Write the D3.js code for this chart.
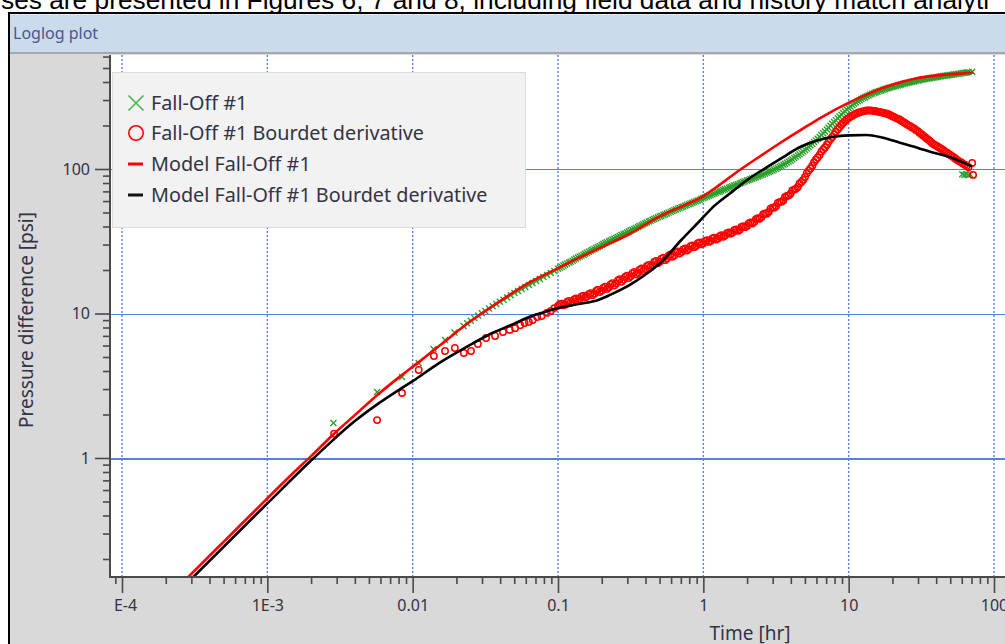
<!DOCTYPE html>
<html>
<head>
<meta charset="utf-8">
<script src="https://cdn.jsdelivr.net/npm/d3@7"></script>
<style>
  html, body { margin: 0; padding: 0; background: #ffffff; overflow: hidden; }
  svg { display: block; }
</style>
</head>
<body>
<svg id="chart" width="1005" height="644"></svg>
<script>
// ---- Fall-Off #1 field data (time in hr, pressure difference in psi) ----
// early pressure readings
const earlyPressureTime = [
  0.00285, 0.00569, 0.00845, 0.0110, 0.0139, 0.0167, 0.0194,
  0.0224, 0.0237, 0.0251, 0.0266, 0.0282, 0.0299, 0.0316, 0.0335, 0.0355, 0.0376,
  0.0398, 0.0422, 0.0447, 0.0473, 0.0501, 0.0531, 0.0562, 0.0596, 0.0631, 0.0668,
  0.0708, 0.0750, 0.0794, 0.0841, 0.0891, 0.0944
];
const earlyPressure = [
  1.75, 2.86, 3.63, 4.54, 5.68, 6.56, 7.40,
  8.20, 8.55, 8.91, 9.29, 9.68, 10.05, 10.42, 10.81, 11.22, 11.64,
  12.05, 12.47, 12.91, 13.37, 13.84, 14.32, 14.78, 15.26, 15.75, 16.26,
  16.78, 17.32, 17.88, 18.45, 19.05, 19.66
];
// early Bourdet derivative points
const earlyDerivativeTime = [
  0.00288, 0.00569, 0.00845, 0.0110, 0.0140, 0.0167, 0.0195, 0.0225, 0.0252,
  0.0281, 0.0320, 0.0369, 0.0418, 0.0465, 0.0507, 0.0550, 0.0589, 0.0630,
  0.0670, 0.0720, 0.0770, 0.0838, 0.0891, 0.0944
];
const earlyDerivative = [
  1.47, 1.83, 2.82, 4.06, 5.08, 5.50, 5.77, 5.33, 5.50,
  6.15, 6.77, 6.98, 7.44, 7.70, 7.92, 8.30, 8.60, 8.75,
  9.00, 9.45, 9.60, 10.1, 10.4, 10.9
];
// dense readings from 0.1 hr onward: time, pressure, derivative
const denseTime = [
  0.100, 0.1029, 0.106, 0.1091, 0.112, 0.1155, 0.119, 0.1222, 0.126, 0.1294,
  0.133, 0.1371, 0.141, 0.1452, 0.150, 0.1538, 0.158, 0.1629, 0.168, 0.1726,
  0.178, 0.1828, 0.188, 0.1936, 0.200, 0.2051, 0.211, 0.2172, 0.224, 0.2301,
  0.237, 0.2437, 0.251, 0.2582, 0.266, 0.2735, 0.282, 0.2897, 0.299, 0.3068,
  0.316, 0.3250, 0.335, 0.3442, 0.355, 0.3646, 0.376, 0.3862, 0.398, 0.4091,
  0.422, 0.4333, 0.447, 0.4590, 0.473, 0.4862, 0.501, 0.5150, 0.531, 0.5455,
  0.562, 0.5778, 0.596, 0.6120, 0.631, 0.6482, 0.668, 0.6866, 0.708, 0.7273,
  0.750, 0.7704, 0.794, 0.8160, 0.841, 0.8643, 0.891, 0.9155, 0.944, 0.9697,
  1.00, 1.029, 1.06, 1.091, 1.12, 1.155, 1.19, 1.222, 1.26, 1.294,
  1.33, 1.371, 1.41, 1.452, 1.50, 1.538, 1.58, 1.629, 1.68, 1.726,
  1.78, 1.828, 1.88, 1.936, 2.00, 2.051, 2.11, 2.172, 2.24, 2.301,
  2.37, 2.437, 2.51, 2.582, 2.66, 2.735, 2.82, 2.897, 2.99, 3.068,
  3.16, 3.250, 3.35, 3.442, 3.55, 3.646, 3.76, 3.862, 3.98, 4.091,
  4.22, 4.333, 4.47, 4.590, 4.73, 4.862, 5.01, 5.150, 5.31, 5.455,
  5.62, 5.778, 5.96, 6.120, 6.31, 6.482, 6.68, 6.866, 7.08, 7.273,
  7.50, 7.704, 7.94, 8.160, 8.41, 8.643, 8.91, 9.155, 9.44, 9.697,
  10.0, 10.29, 10.6, 10.91, 11.2, 11.55, 11.9, 12.22, 12.6, 12.94,
  13.3, 13.71, 14.1, 14.52, 15.0, 15.38, 15.8, 16.29, 16.8, 17.26,
  17.8, 18.28, 18.8, 19.36, 20.0, 20.51, 21.1, 21.72, 22.4, 23.01,
  23.7, 24.37, 25.1, 25.82, 26.6, 27.35, 28.2, 28.97, 29.9, 30.68,
  31.6, 32.50, 33.5, 34.42, 35.5, 36.46, 37.6, 38.62, 39.8, 40.91,
  42.2, 43.33, 44.7, 45.90, 47.3, 48.62, 50.1, 51.50, 53.1, 54.55,
  56.2, 57.78, 59.6, 61.20, 63.1, 64.82, 66.8, 70.8
];
const densePressure = [
  20.4, 20.75, 21.1, 21.45, 21.8, 22.15, 22.5, 22.85, 23.2, 23.6,
  24.0, 24.4, 24.8, 25.15, 25.5, 25.9, 26.3, 26.75, 27.2, 27.6,
  28.0, 28.45, 28.9, 29.35, 29.8, 30.25, 30.7, 31.15, 31.6, 32.05,
  32.5, 32.95, 33.4, 33.9, 34.4, 34.9, 35.4, 35.9, 36.4, 36.95,
  37.5, 38.0, 38.5, 39.1, 39.7, 40.25, 40.8, 41.45, 42.1, 42.7,
  43.3, 43.9, 44.5, 45.1, 45.7, 46.35, 47.0, 47.55, 48.1, 48.7,
  49.3, 49.9, 50.5, 51.15, 51.8, 52.4, 53.0, 53.65, 54.3, 55.0,
  55.7, 56.35, 57.0, 57.7, 58.4, 59.1, 59.8, 60.55, 61.3, 62.15,
  63.0, 63.75, 64.5, 65.3, 66.1, 66.85, 67.6, 68.4, 69.2, 70.0,
  70.8, 71.65, 72.5, 73.35, 74.2, 75.05, 75.9, 76.75, 77.6, 78.5,
  79.4, 80.35, 81.3, 82.2, 83.1, 84.0, 84.9, 85.85, 86.8, 87.75,
  88.7, 89.75, 90.8, 91.85, 92.9, 94.1, 95.3, 96.55, 97.8, 99.15,
  100.5, 102.0, 103.5, 105.2, 106.9, 108.7, 110.5, 112.5, 114.6, 116.8,
  119.0, 121.4, 123.9, 126.6, 129.3, 132.3, 135.4, 138.7, 142.1, 145.8,
  149.5, 153.6, 157.8, 162.2, 166.7, 171.6, 176.6, 182.0, 187.5, 193.2,
  199.1, 205.3, 211.5, 217.9, 224.4, 231.0, 237.7, 244.3, 251.0, 257.8,
  264.6, 270.8, 277.0, 282.8, 288.7, 294.1, 299.6, 304.6, 309.6, 314.2,
  318.8, 323.0, 327.3, 331.3, 335.4, 339.1, 342.8, 346.3, 349.9, 353.3,
  356.8, 360.1, 363.4, 366.6, 369.8, 372.8, 375.8, 378.7, 381.7, 384.5,
  387.4, 390.2, 393.0, 395.8, 398.6, 401.2, 403.9, 406.4, 409.0, 411.5,
  414.0, 416.4, 418.8, 421.1, 423.4, 425.6, 427.8, 429.9, 432.0, 434.0,
  436.1, 438.1, 440.2, 442.1, 444.1, 446.0, 447.9, 449.8, 451.7, 453.5,
  455.3, 457.1, 459.0, 460.9, 462.8, 464.6, 466.5, 471.0
];
const denseDerivative = [
  11.3, 11.6, 11.7, 11.4, 11.5, 12.0, 12.2, 11.9, 12.0, 12.5,
  12.7, 12.4, 12.6, 13.1, 13.3, 12.9, 13.1, 13.6, 13.8, 13.4,
  13.7, 14.3, 14.6, 14.1, 14.4, 15.0, 15.3, 14.8, 15.2, 15.9,
  16.2, 15.6, 16.1, 16.9, 17.3, 16.6, 17.1, 17.9, 18.3, 17.6,
  18.1, 19.0, 19.4, 18.6, 19.1, 20.1, 20.5, 19.7, 20.3, 21.3,
  21.7, 21.0, 21.6, 22.7, 23.1, 22.3, 22.8, 23.9, 24.3, 23.4,
  24.0, 25.2, 25.6, 24.7, 25.2, 26.5, 26.9, 26.0, 26.6, 27.8,
  28.2, 27.3, 27.9, 29.2, 29.6, 28.7, 29.3, 30.6, 31.0, 30.1,
  30.6, 31.8, 32.2, 31.3, 31.8, 33.0, 33.4, 32.5, 33.0, 34.3,
  34.8, 34.0, 34.6, 36.0, 36.4, 35.6, 36.2, 37.7, 38.1, 37.3,
  38.0, 39.7, 40.2, 39.6, 40.4, 42.0, 42.6, 42.0, 43.0, 45.0,
  45.6, 45.2, 46.3, 48.6, 49.3, 49.1, 50.5, 53.2, 54.0, 54.0,
  55.3, 58.2, 59.0, 59.3, 60.6, 64.0, 65.0, 65.6, 67.3, 71.0,
  72.0, 73.0, 75.0, 79.5, 81.3, 84.0, 88.0, 93.5, 97.5, 101.0,
  105.5, 111.5, 116.3, 120.0, 125.0, 131.5, 136.5, 141.0, 147.0, 154.5,
  161.0, 166.5, 173.5, 181.5, 188.5, 194.5, 202.0, 208.5, 214.5, 220.0,
  225.0, 230.0, 234.0, 238.0, 241.5, 244.5, 247.0, 249.0, 250.5, 252.5,
  254.0, 254.5, 254.5, 253.5, 252.0, 251.0, 249.5, 248.0, 246.5, 245.0,
  243.0, 241.0, 239.0, 235.5, 232.0, 229.0, 226.0, 223.0, 220.0, 216.0,
  212.0, 208.0, 204.0, 200.5, 197.5, 194.0, 190.5, 186.5, 183.0, 178.5,
  174.5, 170.5, 166.5, 162.5, 159.0, 155.0, 151.0, 148.0, 145.5, 143.0,
  140.5, 138.0, 135.5, 132.5, 130.0, 127.5, 125.0, 122.5, 120.0, 117.5,
  115.0, 113.0, 111.0, 109.0, 107.0, 105.0, 103.0, 110.0
];
// trailing readings at the end of the fall-off
const pressureTailTime = [60.5, 62.5, 64.5, 66.5, 68.5];
const pressureTail     = [92, 91, 92, 91, 92];
const derivativeTailTime = [71.8];
const derivativeTail     = [91];

// ---- Model Fall-Off #1 ----
const modelTime = [
  1e-4, 5e-4, 1e-3, 0.0015, 0.002, 0.00283, 0.004, 0.00569, 0.008, 0.0113,
  0.016, 0.0237, 0.0303, 0.045, 0.0637, 0.1, 0.14, 0.2, 0.31, 0.52,
  0.75, 1.0, 1.3, 1.77, 2.5, 3.5, 4.63, 6.5, 10.2, 14,
  17.5, 23, 29.5, 40, 55, 72
];
const modelPressure = [
  0.0526, 0.263, 0.526, 0.785, 1.03, 1.45, 1.98, 2.72, 3.6, 4.7,
  6.2, 8.5, 10.1, 13.2, 16.4, 20.6, 24.3, 28.8, 35.5, 48,
  56.5, 65, 78, 98, 124, 155, 185, 228, 290, 335,
  366, 400, 425, 443, 456, 465
];
const modelDerivTime = [
  1e-4, 1e-3, 0.002, 0.00283, 0.004, 0.0057, 0.008, 0.01, 0.015, 0.0237,
  0.035, 0.05, 0.0637, 0.08, 0.1, 0.13, 0.16, 0.185, 0.23, 0.31,
  0.4, 0.52, 0.7, 0.94, 1.2, 1.59, 2.0, 2.74, 3.5, 4.63,
  6, 7.8, 10, 13.3, 17, 22.5, 30, 37.9, 49.5, 60, 70.7
];
const modelDerivative = [
  0.0485, 0.485, 0.96, 1.33, 1.8, 2.35, 2.95, 3.4, 4.5, 5.9,
  7.3, 8.5, 9.5, 10.2, 10.9, 11.5, 11.9, 12.3, 13.5, 15.7,
  18.6, 23, 32, 43.5, 56, 70, 84, 103, 120, 142,
  157, 167, 171, 172, 165, 152, 140, 130, 121, 112, 104
];

// ---- axis ticks and labels ----
const xTickValues = [1e-4, 1e-3, 1e-2, 1e-1, 1, 10, 100];
const xTickLabels = ["E-4", "1E-3", "0.01", "0.1", "1", "10", "100"];
const yTickValues = [1, 10, 100];
const yTickLabels = ["1", "10", "100"];
const legendLabels = [
  "Fall-Off #1",
  "Fall-Off #1 Bourdet derivative",
  "Model Fall-Off #1",
  "Model Fall-Off #1 Bourdet derivative"
];
const headerText = "ses are presented in Figures 6, 7 and 8, including field data and history match analyti";
const windowTitle = "Loglog plot";
const xTitle = "Time [hr]";
const yTitle = "Pressure difference [psi]";

// ---- layout ----
const W = 1005, H = 644;
const plot = { left: 110, top: 55, right: 1010, bottom: 577 };
const GREEN = "#2ca02c", RED = "#ff0000", GRID = "#5a7fe0";
const FONT = "'Noto Sans', 'Open Sans', sans-serif";
const TEXT = "#333344";

const svg = d3.select("#chart");

const x = d3.scaleLog().domain([1e-4, 100]).range([122, 994]);
const y = d3.scaleLog().domain([1, 100]).range([458, 169]);

// document text running above the window
svg.append("text")
  .attr("x", 1).attr("y", 9)
  .attr("font-family", "'Liberation Sans', Arial, sans-serif")
  .attr("font-size", 26.3).attr("fill", "#000")
  .text(headerText);

// window frame and title bar
svg.append("rect").attr("x", 8).attr("y", 12).attr("width", W).attr("height", H).attr("fill", "#000");
svg.append("rect").attr("x", 10).attr("y", 14).attr("width", W).attr("height", 39).attr("fill", "#cbdbeb");
svg.append("rect").attr("x", 10).attr("y", 14).attr("width", W).attr("height", 1).attr("fill", "#e3ecf5");
svg.append("rect").attr("x", 10).attr("y", 52).attr("width", W).attr("height", 2).attr("fill", "#a8a8a8");
svg.append("rect").attr("x", 10).attr("y", 54).attr("width", W).attr("height", H).attr("fill", "#d9d9d9");
svg.append("text")
  .attr("x", 13).attr("y", 39)
  .attr("font-family", FONT).attr("font-size", 16)
  .attr("fill", "#4a5590")
  .text(windowTitle);

// plotting area
svg.append("rect")
  .attr("x", plot.left).attr("y", plot.top)
  .attr("width", plot.right - plot.left).attr("height", plot.bottom - plot.top)
  .attr("fill", "#ffffff");

svg.append("defs").append("clipPath").attr("id", "plotClip")
  .append("rect")
  .attr("x", plot.left).attr("y", plot.top)
  .attr("width", plot.right - plot.left).attr("height", plot.bottom - plot.top);

// grid: dotted verticals at decades, solid horizontals at decades
const grid = svg.append("g").attr("clip-path", "url(#plotClip)");
grid.selectAll("line.vgrid").data(xTickValues).join("line")
  .attr("class", "vgrid")
  .attr("x1", d => x(d)).attr("x2", d => x(d))
  .attr("y1", plot.top).attr("y2", plot.bottom)
  .attr("stroke", GRID).attr("stroke-width", 1.4)
  .attr("stroke-dasharray", "2,2");
grid.selectAll("line.hgrid").data(yTickValues).join("line")
  .attr("class", "hgrid")
  .attr("x1", plot.left).attr("x2", plot.right)
  .attr("y1", d => Math.round(y(d)) + 0.5).attr("y2", d => Math.round(y(d)) + 0.5)
  .attr("stroke", GRID)
  .attr("shape-rendering", "crispEdges")
  .attr("stroke-width", d => d === 1 ? 2 : 1);

// data layers
const layer = svg.append("g").attr("clip-path", "url(#plotClip)");

const pairs = (ts, vs) => ts.map((t, i) => ({ t, p: vs[i] }));
const fallOff = pairs(earlyPressureTime, earlyPressure)
  .concat(pairs(denseTime, densePressure))
  .concat(pairs(pressureTailTime, pressureTail));
const bourdet = pairs(earlyDerivativeTime, earlyDerivative)
  .concat(pairs(denseTime, denseDerivative))
  .concat(pairs(derivativeTailTime, derivativeTail));

const cross = "M-3,-3L3,3M-3,3L3,-3";
layer.append("g").selectAll("path").data(fallOff).join("path")
  .attr("transform", d => `translate(${x(d.t)},${y(d.p)})`)
  .attr("d", cross)
  .attr("fill", "none").attr("stroke", GREEN).attr("stroke-width", 1.4);

layer.append("g").selectAll("circle").data(bourdet).join("circle")
  .attr("cx", d => x(d.t)).attr("cy", d => y(d.p)).attr("r", 3.2)
  .attr("fill", "none").attr("stroke", RED).attr("stroke-width", 1.5);

const line = d3.line().x(d => x(d.t)).y(d => y(d.p)).curve(d3.curveMonotoneX);

layer.append("path")
  .datum(pairs(modelTime, modelPressure))
  .attr("d", line)
  .attr("fill", "none").attr("stroke", RED).attr("stroke-width", 2.6);

layer.append("path")
  .datum(pairs(modelDerivTime, modelDerivative))
  .attr("d", line)
  .attr("fill", "none").attr("stroke", "#000").attr("stroke-width", 2.6);

// minor tick positions (2..9 within each decade)
function minorTicks(lo, hi, scale, pmin, pmax) {
  const out = [];
  for (let e = lo; e <= hi; e++) {
    for (let m = 2; m <= 9; m++) {
      const v = m * Math.pow(10, e);
      const px = scale(v);
      if (px >= pmin && px <= pmax) out.push(v);
    }
  }
  return out;
}
const xMinor = minorTicks(-5, 2, x, plot.left + 1, plot.right);
const yMinor = minorTicks(-1, 2, y, plot.top, plot.bottom - 1);

const AXIS = "#4a4a4a";

// x axis
const xAxisMinor = svg.append("g").attr("transform", `translate(0,${plot.bottom})`)
  .call(d3.axisBottom(x).tickValues(xMinor).tickSize(7).tickFormat(""));
const xAxis = svg.append("g").attr("transform", `translate(0,${plot.bottom})`)
  .call(d3.axisBottom(x).tickValues(xTickValues)
    .tickFormat((d, i) => xTickLabels[i]).tickSize(16).tickPadding(7));

// y axis
const yAxisMinor = svg.append("g").attr("transform", `translate(${plot.left},0)`)
  .call(d3.axisLeft(y).tickValues(yMinor).tickSize(7).tickFormat(""));
const yAxis = svg.append("g").attr("transform", `translate(${plot.left},0)`)
  .call(d3.axisLeft(y).tickValues(yTickValues)
    .tickFormat((d, i) => yTickLabels[i]).tickSize(15).tickPadding(5));

[xAxisMinor, xAxis, yAxisMinor, yAxis].forEach(g => {
  g.select(".domain").remove();
  g.selectAll(".tick line").attr("stroke", AXIS).attr("stroke-width", 1.6);
  g.selectAll(".tick text")
    .attr("font-family", FONT).attr("font-size", 16).attr("fill", TEXT);
});
xAxis.selectAll(".tick text").filter((d, i) => i === 0).attr("dx", 3);

// axis lines
svg.append("line")
  .attr("x1", plot.left).attr("x2", plot.left)
  .attr("y1", plot.top).attr("y2", plot.bottom + 1)
  .attr("stroke", AXIS).attr("stroke-width", 2);
svg.append("line")
  .attr("x1", plot.left - 1).attr("x2", plot.right)
  .attr("y1", plot.bottom).attr("y2", plot.bottom)
  .attr("stroke", AXIS).attr("stroke-width", 2);

// axis titles
svg.append("text")
  .attr("x", 750).attr("y", 640)
  .attr("text-anchor", "middle")
  .attr("font-family", FONT).attr("font-size", 19).attr("fill", TEXT)
  .text(xTitle);
svg.append("text")
  .attr("transform", "translate(33,320) rotate(-90)")
  .attr("text-anchor", "middle")
  .attr("font-family", FONT).attr("font-size", 19).attr("fill", TEXT)
  .text(yTitle);

// legend
const legend = svg.append("g");
legend.append("rect")
  .attr("x", 112.5).attr("y", 72.5).attr("width", 413).attr("height", 155)
  .attr("fill", "#f2f2f2").attr("stroke", "#dcdcdc").attr("stroke-width", 1);

const rowY = [103, 133, 164, 195];
const mx = 136;
legend.append("path")
  .attr("d", `M${mx - 7.5},${rowY[0] - 7.5}L${mx + 7.5},${rowY[0] + 7.5}M${mx - 7.5},${rowY[0] + 7.5}L${mx + 7.5},${rowY[0] - 7.5}`)
  .attr("stroke", "#4cb54c").attr("stroke-width", 1.6).attr("fill", "none");
legend.append("circle")
  .attr("cx", mx).attr("cy", rowY[1]).attr("r", 7.2)
  .attr("fill", "none").attr("stroke", RED).attr("stroke-width", 1.6);
legend.append("line")
  .attr("x1", mx - 8).attr("x2", mx + 7).attr("y1", rowY[2]).attr("y2", rowY[2])
  .attr("stroke", RED).attr("stroke-width", 3);
legend.append("line")
  .attr("x1", mx - 8).attr("x2", mx + 7).attr("y1", rowY[3]).attr("y2", rowY[3])
  .attr("stroke", "#111").attr("stroke-width", 3);

legend.selectAll("text").data(legendLabels).join("text")
  .attr("x", 151).attr("y", (d, i) => rowY[i])
  .attr("dy", "0.35em")
  .attr("font-family", FONT).attr("font-size", 19.8).attr("fill", TEXT)
  .text(d => d);
</script>
</body>
</html>
